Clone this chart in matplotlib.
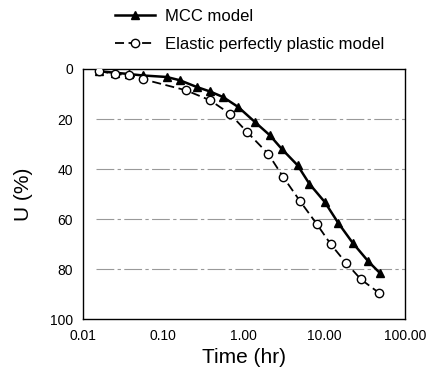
import numpy as np
import matplotlib
matplotlib.use("Agg")
import matplotlib.pyplot as plt

plt.rcParams['font.family'] = ['Liberation Sans', 'DejaVu Sans']

# MCC model (filled triangles)
mcc_t = [0.016, 0.025, 0.037, 0.056, 0.11, 0.16, 0.26, 0.38, 0.55, 0.85,
         1.37, 2.1, 2.94, 4.64, 6.5, 10.1, 14.8, 22.4, 35.0, 48.9]
mcc_u = [0.9, 1.5, 2.0, 2.6, 3.2, 4.5, 7.2, 9.0, 11.2, 15.2,
         21.2, 26.5, 31.9, 38.5, 45.9, 53.2, 61.5, 69.5, 76.9, 81.6]

# Elastic perfectly plastic model (open circles)
epp_t = [0.016, 0.025, 0.037, 0.056, 0.19, 0.38, 0.67, 1.08,
         2.0, 3.08, 4.97, 8.0, 12.0, 18.5, 28.4, 47.5]
epp_u = [0.9, 1.9, 2.5, 4.1, 8.5, 12.5, 17.9, 25.0,
         33.9, 43.2, 52.8, 61.9, 70.1, 77.5, 84.1, 89.5]

y_ticks = [0, 20, 40, 60, 80, 100]
x_ticks = [0.01, 0.1, 1, 10, 100]
x_labels = ['0.01', '0.10', '1.00', '10.00', '100.00']

fig = plt.figure(figsize=(4.29, 3.79), dpi=100)
ax = fig.add_axes([0.193, 0.158, 0.751, 0.660])

# horizontal guide lines (they start a bit right of the axis in the original)
for yv in y_ticks[1:-1]:
    ax.axhline(yv, xmin=0.04, color='#999999', lw=0.8, ls=(0, (16, 3, 3, 3)), zorder=1)

ax.plot(mcc_t, mcc_u, color='black', lw=1.8, marker='^', ms=5.5,
        mfc='black', mec='black', label='MCC model', zorder=3)
ax.plot(epp_t, epp_u, color='black', lw=1.3, ls=(0, (5, 2.5)), marker='o', ms=6,
        mfc='white', mec='black', mew=1.0,
        label='Elastic perfectly plastic model', zorder=4)

ax.set_xscale('log')
ax.set_xlim(0.01, 100)
ax.set_ylim(100, 0)
ax.set_xticks(x_ticks)
ax.set_xticklabels(x_labels)
ax.xaxis.set_minor_locator(matplotlib.ticker.NullLocator())
ax.set_yticks(y_ticks)
ax.tick_params(axis='both', labelsize=10, length=0, pad=7)

ax.set_xlabel('Time (hr)', fontsize=15, labelpad=4)
ax.set_ylabel('U (%)', fontsize=15, labelpad=12)

for s in ax.spines.values():
    s.set_linewidth(1.0)

fig.legend(loc='upper left', bbox_to_anchor=(0.268, 0.977), frameon=False,
           fontsize=12, handlelength=2.4, handletextpad=0.6,
           labelspacing=0.8, borderpad=0, borderaxespad=0)

fig.savefig('out.png', dpi=100)
